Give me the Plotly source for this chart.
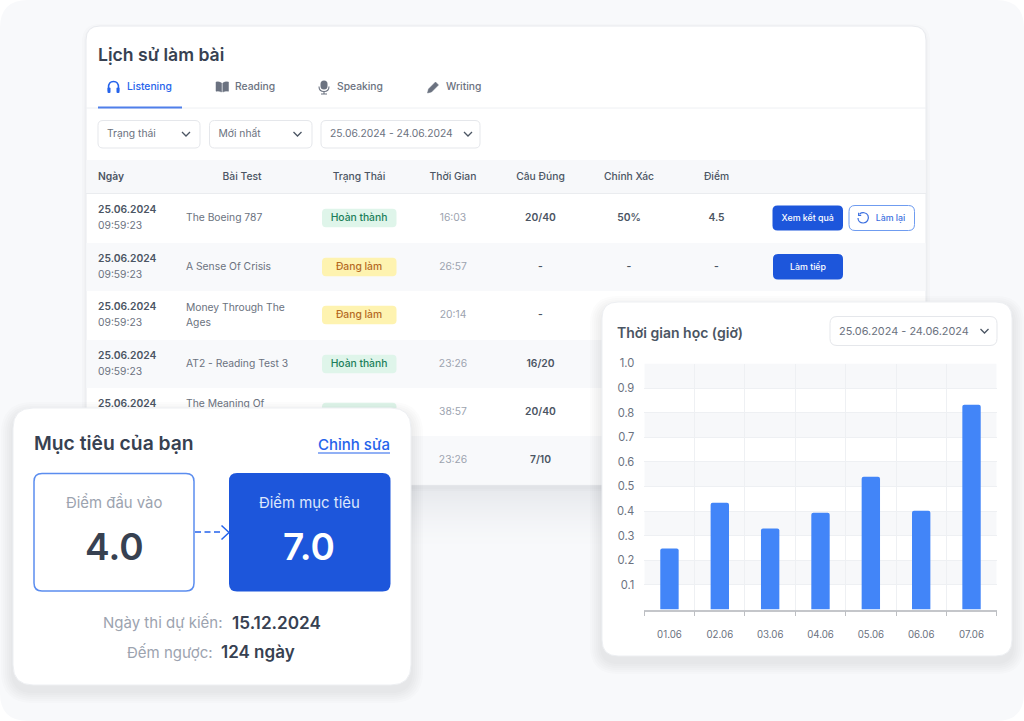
import plotly.graph_objects as go

# table content
HEADERS = ["Bài Test", "Trạng Thái", "Thời Gian", "Câu Đúng", "Chính Xác", "Điểm"]
DATES = ["25.06.2024"] * 5
TIMES = ["09:59:23"] * 4
TEST_LINE1 = ["The Boeing 787", "A Sense Of Crisis", "Money Through The", "AT2 - Reading Test 3", "The Meaning Of"]
TEST_LINE2 = ["Ages"]
STATUS = ["Hoàn thành", "Đang làm", "Đang làm", "Hoàn thành"]
DURATIONS = ["16:03", "26:57", "20:14", "23:26", "38:57", "23:26"]
CORRECT = ["20/40", "-", "-", "16/20", "20/40", "7/10"]
ACCURACY = ["50%", "-"]
SCORE = ["4.5", "-"]
TABS = ["Listening", "Reading", "Speaking", "Writing"]
FILTERS = ["Trạng thái", "Mới nhất", "25.06.2024 - 24.06.2024"]

# bar chart
DAYS = ["01.06", "02.06", "03.06", "04.06", "05.06", "06.06", "07.06"]
HOURS = [0.248, 0.434, 0.329, 0.393, 0.54, 0.401, 0.832]
Y_TICKS = [0.1, 0.2, 0.3, 0.4, 0.5, 0.6, 0.7, 0.8, 0.9, 1.0]

BLUE = "#1D56DB"
LINK = "#2563EB"
DARK = "#374151"
MID = "#4B5563"
GREY = "#6B7280"
LIGHT = "#9CA3AF"
DONE_TXT = "#1B7F5A"
DOING_TXT = "#B4691F"
FONT = "Inter, sans-serif"
W, H = 1024, 721

ROWS_Y = [218, 267, 315, 364, 412, 460]


def rrect(x0, y0, x1, y1, r):
    return (f"M{x0 + r} {y0} H{x1 - r} Q{x1} {y0} {x1} {y0 + r} V{y1 - r} Q{x1} {y1} {x1 - r} {y1} "
            f"H{x0 + r} Q{x0} {y1} {x0} {y1 - r} V{y0 + r} Q{x0} {y0} {x0 + r} {y0} Z")


def box(ax, x0, y0, x1, y1, r=0, fill="rgba(0,0,0,0)", line=None, width=1):
    return dict(type="path", path=rrect(x0, y0, x1, y1, r), xref="x" + ax, yref="y" + ax,
                fillcolor=fill, line=dict(color=line or "rgba(0,0,0,0)", width=width if line else 0),
                layer="below")


def stroke(ax, path, color, width=1.3, fill="rgba(0,0,0,0)", dash=None):
    return dict(type="path", path=path, xref="x" + ax, yref="y" + ax, fillcolor=fill,
                line=dict(color=color, width=width, dash=dash), layer="below")


def chevron(ax, x, y):
    return stroke(ax, f"M{x - 4} {y - 2} L{x} {y + 2} L{x + 4} {y - 2}", MID)


def shadow(ax, x0, y0, x1, y1, r, spread=10, drop=5):
    # plotly rounds alpha to two decimals, coarser steps also avoid a colour tint
    out = []
    for i in range(spread, 0, -2):
        out.append(box(ax, x0 - i, y0 - i + drop, x1 + i, y1 + i + drop, r + i, fill="rgba(55,55,55,0.016)"))
    return out


def table_glow(steps=60):
    # long soft fall-off under the table, opaque steps on the flat page colour
    page, edge = (248, 249, 251), (231, 233, 237)
    out = []
    for i in range(steps, 0, -1):
        t = (1 - i / steps) ** 1.5
        c = [round(p + (e - p) * t) for p, e in zip(page, edge)]
        out.append(box("", 136 - i, 60, 876 + i, 490 + i, 14 + i, fill=f"rgb({c[0]},{c[1]},{c[2]})"))
    return out


def cells(xs, ys, texts, size=10.3, color=MID, weight=400, pos="middle center"):
    # svg text sits a touch high against the reference, nudge it down
    return go.Scatter(x=xs, y=[v + 0.8 for v in ys], text=texts, mode="text", textposition=pos, hoverinfo="skip",
                      textfont=dict(family=FONT, size=size, color=color, weight=weight),
                      xaxis="x", yaxis="y", showlegend=False)


def label(text, x, y, size, color, weight=400, anchor="center"):
    return dict(text=text, x=x, y=y, xref="x2", yref="y2", showarrow=False, xanchor=anchor, yanchor="middle",
                font=dict(family=FONT, size=size, color=color, weight=weight), borderpad=0, borderwidth=0)


fig = go.Figure()

# layer 1: page and history table
shapes = [box("", 0, 0, W, H, 28, fill="#F8F9FB")]
shapes += table_glow()
shapes += shadow("", 86, 26, 926, 485, 14, spread=4, drop=2)
shapes.append(box("", 86, 26, 926, 485, 14, fill="white", line="#E8EAEE"))
shapes.append(stroke("", "M86 108 H926", "#EEF0F3", 1))
shapes.append(stroke("", "M98 107.5 H182", "#4F7FEA", 2))
# tab icons
shapes.append(stroke("", "M108.5 91 V87.5 Q108.5 81.5 113.5 81.5 Q118.5 81.5 118.5 87.5 V91", LINK, 1.5))
shapes.append(box("", 107.5, 87.5, 110.5, 93, 1, fill=LINK))
shapes.append(box("", 116.5, 87.5, 119.5, 93, 1, fill=LINK))
shapes.append(stroke("", "M216 82 Q219 81.4 221.6 83 V92 Q219 90.8 216 91.2 Z", GREY, 0.5, fill=GREY))
shapes.append(stroke("", "M228.5 82 Q225 81.4 222.8 83 V92 Q225 90.8 228.5 91.2 Z", GREY, 0.5, fill=GREY))
shapes.append(box("", 320.5, 80.5, 327.5, 89.5, 3.5, fill=GREY))
shapes.append(stroke("", "M319 86.5 Q319 91.5 324 91.5 Q329 91.5 329 86.5 M324 91.5 V94 M321 94 H327", GREY, 1.1))
shapes.append(stroke("", "M427.5 93 L428.5 89 L435.5 82 L438.5 85 L431.5 92 Z", GREY, 0.5, fill=GREY))
# filters
for x0, x1, chev in [(98, 200, 186), (209.5, 312, 297.5), (321, 480, 468)]:
    shapes.append(box("", x0, 120.5, x1, 148, 5, fill="white", line="#E5E7EB"))
    shapes.append(chevron("", chev, 134))
# header band and striped rows
shapes.append(box("", 86.5, 160, 925.5, 193, fill="#F7F8FA"))
shapes.append(stroke("", "M86 193.5 H926", "#EAECEF", 1))
for y0, y1 in [(243, 291), (340, 388)]:
    shapes.append(box("", 86.5, y0, 925.5, y1, fill="#F8F9FB"))
shapes.append(box("", 86.5, 436, 925.5, 484.5, 13, fill="#F8F9FB"))
# status badges
for i, s in enumerate(STATUS + ["Hoàn thành"]):
    fill = "#DFF5EA" if s == "Hoàn thành" else "#FEF3B0"
    shapes.append(box("", 322, ROWS_Y[i] - 9.2, 396.5, ROWS_Y[i] + 9.2, 4, fill=fill))
# row buttons
shapes.append(box("", 772.5, 205.5, 843, 230.5, 5, fill=BLUE))
shapes.append(box("", 849, 205.5, 914.5, 230.5, 6, fill="white", line="#6F9CF0", width=1))
shapes.append(box("", 773, 254, 843, 279.5, 5, fill=BLUE))
shapes.append(stroke("", "M859.6 214 C862 212 866.5 212.2 868 215.5 C869.4 219 867 223 863.2 223 C860 223 858 220.8 858 218", "#3B6FE0", 1.2))
shapes.append(stroke("", "M858.6 212.8 V215.4 H861.2", "#3B6FE0", 1.1))

fig.add_trace(cells([98] * 5, [y - 8 for y in ROWS_Y[:5]], DATES, weight=600, pos="middle right"))
fig.add_trace(cells([98] * 4, [y + 8 for y in ROWS_Y[:4]], TIMES, color=GREY, pos="middle right"))
fig.add_trace(cells([98], [176.5], ["Ngày"], weight=600, pos="middle right"))
fig.add_trace(cells([242, 359, 453, 540.5, 629, 716.5], [176.5] * 6, HEADERS, weight=500))
fig.add_trace(cells([186] * 5, [218, 267, 307.5, 364, 404], TEST_LINE1, color=GREY, pos="middle right"))
fig.add_trace(cells([186], [323], TEST_LINE2, color=GREY, pos="middle right"))
fig.add_trace(cells([359] * 4, ROWS_Y[:4], STATUS, weight=500,
                    color=[DONE_TXT if s == "Hoàn thành" else DOING_TXT for s in STATUS]))
fig.add_trace(cells([453] * 6, ROWS_Y, DURATIONS, color=LIGHT))
fig.add_trace(cells([540.5] * 6, ROWS_Y, CORRECT, weight=600))
fig.add_trace(cells([629] * 2, ROWS_Y[:2], ACCURACY, weight=600))
fig.add_trace(cells([716.5] * 2, ROWS_Y[:2], SCORE, weight=600))
fig.add_trace(cells([127, 235, 337, 446], [87] * 4, TABS, weight=500, pos="middle right",
                    color=[LINK, GREY, GREY, GREY]))
fig.add_trace(cells([107, 218.5, 330], [134] * 3, FILTERS, color=GREY, pos="middle right"))
fig.add_trace(cells([807.7, 808], [218, 266.7], ["Xem kết quả", "Làm tiếp"], size=8.8, color="white", weight=500))
fig.add_trace(cells([890.5], [218], ["Làm lại"], size=8.8, color="#3B6FE0", weight=500))

# layer 2: cards lying over the table
shapes += shadow("2", 13, 408, 411, 685, 20, spread=12, drop=6)
shapes.append(box("2", 13, 408, 411, 685, 20, fill="white", line="#EDEFF2"))
shapes.append(box("2", 34, 473.5, 194, 591, 8, fill="white", line="#5B8DEF", width=1.5))
shapes.append(box("2", 229, 473, 390.5, 591.5, 8, fill=BLUE))
shapes.append(stroke("2", "M195 532 H222", LINK, 1.5, dash="6px,3.5px"))
shapes.append(stroke("2", "M221.5 525.5 L229 532.5 L221.5 539.5", LINK, 1.5))
shapes.append(stroke("2", "M318 453 H390", LINK, 1.2))
shapes += shadow("2", 602, 302, 1012, 656, 16, spread=12, drop=6)
shapes.append(box("2", 602, 302, 1012, 656, 16, fill="white", line="#EDEFF2"))
shapes.append(box("2", 830, 316.5, 997, 345.5, 7, fill="white", line="#E5E7EB"))
shapes.append(chevron("2", 984.5, 331))
fig.add_trace(go.Scatter(x=[], y=[], xaxis="x2", yaxis="y2", showlegend=False))

# layer 3: the real bar chart
for lo in Y_TICKS[::2]:
    shapes.append(dict(type="rect", xref="x3", yref="y3", x0=-0.5, x1=6.5, y0=lo, y1=lo + 0.1,
                       fillcolor="#F7F8FA", line=dict(width=0), layer="below"))
fig.add_trace(go.Bar(x=DAYS, y=HOURS, width=0.365, xaxis="x3", yaxis="y3", showlegend=False,
                     marker=dict(color="#4285F8", cornerradius=2, line=dict(width=0)), hoverinfo="skip"))

notes = [
    label("Lịch sử làm bài", 98, 54, 17.6, DARK, 600, "left"),
    label("Mục tiêu của bạn", 34, 443, 19.3, DARK, 600, "left"),
    label("Chỉnh sửa", 354, 444, 15, LINK, 500),
    label("Điểm đầu vào", 114, 502, 14.9, LIGHT),
    label("4.0", 114, 546, 37, DARK, 600),
    label("Điểm mục tiêu", 309, 502, 14.9, "#DDE7FB"),
    label("7.0", 309, 546, 37, "white", 600),
    label("Ngày thi dự kiến:", 222, 622, 15, LIGHT, 400, "right"),
    label("15.12.2024", 232, 622, 17.2, DARK, 600, "left"),
    label("Đếm ngược:", 213, 652, 15, LIGHT, 400, "right"),
    label("124 ngày", 221, 652, 17, DARK, 600, "left"),
    label("Thời gian học (giờ)", 617, 332, 14, MID, 600, "left"),
    label("25.06.2024 - 24.06.2024", 839, 331, 10.9, GREY, 400, "left"),
]

pixel_x = dict(range=[0, W], domain=[0, 1], visible=False, fixedrange=True)
pixel_y = dict(range=[H, 0], domain=[0, 1], visible=False, fixedrange=True)
fig.update_layout(
    template="none",
    width=W,
    height=H,
    margin=dict(l=0, r=0, t=0, b=0, autoexpand=False),
    paper_bgcolor="white",
    plot_bgcolor="rgba(0,0,0,0)",
    font=dict(family=FONT, color=GREY),
    showlegend=False,
    hovermode=False,
    shapes=shapes,
    annotations=notes,
    xaxis=dict(pixel_x, anchor="y"),
    yaxis=dict(pixel_y, anchor="x"),
    xaxis2=dict(pixel_x, anchor="y2"),
    yaxis2=dict(pixel_y, anchor="x2"),
    xaxis3=dict(
        domain=[644.3 / W, 996.7 / W], anchor="y3", type="category", range=[-0.5, 6.5], tickson="boundaries",
        showgrid=True, gridcolor="#EEF0F3", gridwidth=1, showline=True, linecolor="#C4C6CA", linewidth=1.5,
        ticks="outside", ticklen=5, tickcolor="#BDBFC3", tickwidth=1, ticklabelstandoff=15,
        tickfont=dict(family=FONT, size=9.7, color=GREY), fixedrange=True,
    ),
    yaxis3=dict(
        domain=[(H - 609.5) / H, (H - 363.5) / H], anchor="x3", range=[0, 1], tickvals=Y_TICKS,
        ticktext=[f"{v:.1f}" for v in Y_TICKS], showgrid=True, gridcolor="#EEF0F3", gridwidth=1, zeroline=False,
        showline=False, ticks="", ticklabelstandoff=9, tickfont=dict(family=FONT, size=11.2, color=GREY),
        fixedrange=True,
    ),
)

fig.write_html("out.html", config={"displayModeBar": False},
               post_script="document.body.style.margin='0';")
